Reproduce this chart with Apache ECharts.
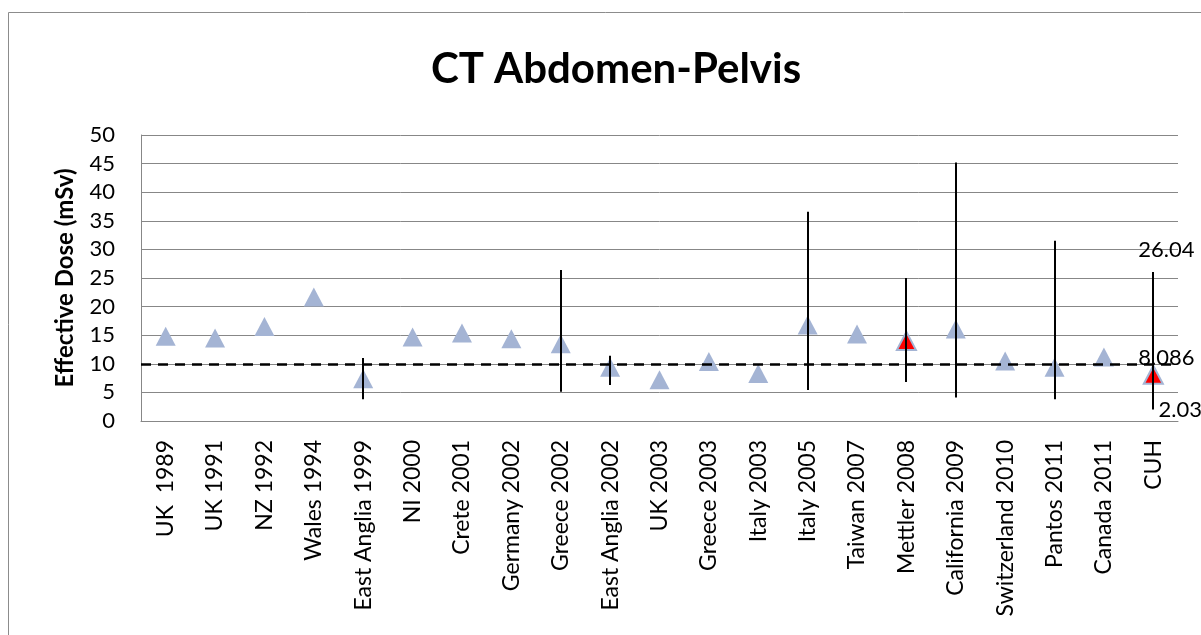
<!DOCTYPE html>
<html>
<head>
<meta charset="utf-8">
<script src="https://cdn.jsdelivr.net/npm/echarts@6/dist/echarts.min.js"></script>
<style>
  html, body { margin: 0; padding: 0; background: #fff; }
  #chart { width: 1201px; height: 635px; }
</style>
</head>
<body>
<div id="chart"></div>
<script>
const categories = ['UK  1989', 'UK 1991', 'NZ 1992', 'Wales 1994', 'East Anglia 1999', 'NI 2000',
  'Crete 2001', 'Germany 2002', 'Greece 2002', 'East Anglia 2002', 'UK 2003', 'Greece 2003',
  'Italy 2003', 'Italy 2005', 'Taiwan 2007', 'Mettler 2008', 'California 2009',
  'Switzerland 2010', 'Pantos 2011', 'Canada 2011', 'CUH'];
const doses = [14.8, 14.5, 16.5, 21.7, 7.4, 14.7, 15.4, 14.4, 13.5, 9.4, 7.2, 10.4,
  8.3, 16.8, 15.2, 14.0, 16.1, 10.5, 9.4, 11.2, 8.086];
// range of reported doses (null = no range)
const lowDose = [null, null, null, null, 3.8, null, null, null, 5.1, 6.3, null, null,
  null, 5.4, null, 6.8, 4.1, null, 3.8, null, 2.03];
const highDose = [null, null, null, null, 11.0, null, null, null, 26.4, 11.4, null, null,
  null, 36.6, null, 25.0, 45.2, null, 31.5, null, 26.04];
const highlighted = ['Mettler 2008', 'CUH'];
const referenceDose = 10;
const cuhLabels = [26.04, 8.086, 2.03];

const FONT = 'Lato';
const chart = echarts.init(document.getElementById('chart'));

const pointData = doses.map((v, i) => {
  const red = highlighted.includes(categories[i]);
  return {
    value: [i, v],
    symbolSize: red ? [19, 18] : [20, 19],
    itemStyle: red
      ? { color: '#ff0000', borderColor: '#a4b4d4', borderWidth: 2, opacity: 1 }
      : { color: '#a4b4d4', opacity: 1 },
  };
});

const barData = [];
doses.forEach((v, i) => {
  if (lowDose[i] != null) barData.push([i, lowDose[i], highDose[i]]);
});

const last = categories.length - 1;
const labelOffsets = [[13, -22], [13, -17], [27, 1]];
const labelData = cuhLabels.map((v, k) => ({
  value: [last, v],
  label: { offset: labelOffsets[k] },
}));

const option = {
  animation: false,
  backgroundColor: '#fff',
  textStyle: { fontFamily: FONT },
  graphic: [{
    type: 'rect',
    shape: { x: 8.5, y: 12.5, width: 1210, height: 640 },
    style: { fill: 'none', stroke: '#8c8c8c', lineWidth: 1 },
    silent: true,
  }],
  title: {
    text: 'CT Abdomen-Pelvis',
    left: 611,
    top: 43,
    textAlign: 'center',
    textStyle: { fontFamily: FONT, fontSize: 42, fontWeight: 'bold', color: '#000' },
  },
  grid: { left: 141, right: 23, top: 135, bottom: 214 },
  xAxis: {
    type: 'category',
    data: categories,
    axisLine: { lineStyle: { color: '#878787', width: 1 } },
    axisTick: { show: false },
    axisLabel: {
      rotate: 90,
      interval: 0,
      margin: 19,
      fontSize: 23,
      fontFamily: FONT,
      color: '#000',
    },
  },
  yAxis: {
    type: 'value',
    min: 0,
    max: 50,
    interval: 5,
    name: 'Effective Dose (mSv)',
    nameLocation: 'middle',
    nameGap: 64,
    nameTextStyle: { fontFamily: FONT, fontSize: 24, fontWeight: 'bold', color: '#000' },
    axisLine: { show: true, lineStyle: { color: '#878787', width: 1 } },
    axisTick: { show: false },
    axisLabel: { margin: 26, fontSize: 22, fontFamily: FONT, color: '#000' },
    splitLine: { lineStyle: { color: '#878787', width: 1 } },
  },
  series: [
    {
      type: 'scatter',
      symbol: 'triangle',
      data: pointData,
      z: 3,
      markLine: {
        silent: true,
        symbol: 'none',
        label: { show: false },
        lineStyle: { color: '#000', width: 2.5, type: [10, 7] },
        data: [{ yAxis: referenceDose }],
      },
    },
    {
      type: 'custom',
      z: 4,
      data: barData,
      encode: { x: 0, y: [1, 2] },
      renderItem(params, api) {
        const a = api.coord([api.value(0), api.value(1)]);
        const b = api.coord([api.value(0), api.value(2)]);
        return {
          type: 'line',
          shape: { x1: Math.round(a[0]), y1: a[1], x2: Math.round(b[0]), y2: b[1] },
          style: { stroke: '#000', lineWidth: 2 },
        };
      },
    },
    {
      type: 'scatter',
      symbolSize: 0,
      z: 5,
      itemStyle: { opacity: 1 },
      data: labelData,
      label: {
        show: true,
        position: 'inside',
        fontSize: 22,
        fontFamily: FONT,
        color: '#000',
        formatter: (p) => String(p.value[1]),
      },
    },
  ],
};

chart.setOption(option);
</script>
</body>
</html>
